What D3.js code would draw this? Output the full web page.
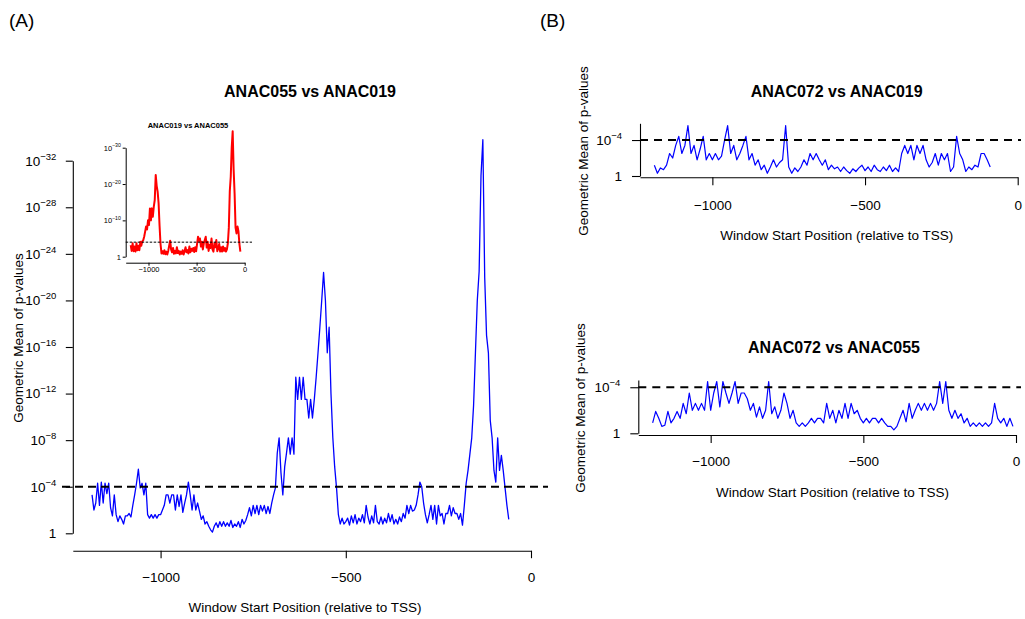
<!DOCTYPE html>
<html>
<head>
<meta charset="utf-8">
<script src="https://cdn.jsdelivr.net/npm/d3@7"></script>
<style>
  body { margin: 0; background: #fff; }
  svg text { font-family: "Liberation Sans", Arial, Helvetica, sans-serif; fill: #000; }
</style>
</head>
<body>
<svg id="fig" width="1025" height="619"></svg>
<script>
// ---- data: -log10 of the geometric mean of p-values per sliding window ----
const xTicks = [-1000, -500, 0];
const xAxisStart = -1237;
const threshold = 4;               // p = 1e-4

// ANAC055 vs ANAC019 (windows every 5 bp from -1185)
const mainStart = -1185, mainStep = 5;
const mainValues = [
  3.3, 2.0, 2.6, 4.3, 2.4, 4.4, 2.6, 4.3, 3.4, 4.3,
  2.2, 1.5, 3.3, 1.6, 1.0, 1.5, 1.2, 0.8, 1.5, 1.5,
  1.7, 1.4, 2.4, 3.3, 4.3, 5.5, 3.9, 4.3, 3.3, 4.3,
  1.6, 1.3, 1.6, 1.3, 1.6, 1.3, 1.6, 1.6, 2.0, 2.4,
  3.3, 3.3, 2.6, 3.3, 3.3, 2.0, 3.3, 2.3, 3.3, 1.8,
  2.6, 3.3, 4.4, 3.3, 2.0, 3.3, 2.0, 2.6, 1.9, 1.2,
  1.5, 0.8, 1.0, 0.6, 0.3, 0.1, 0.6, 0.9, 0.5, 1.0,
  0.6, 1.0, 0.6, 0.9, 0.6, 1.1, 0.5, 0.8, 0.6, 1.0,
  0.5, 1.2, 0.8, 1.1, 1.6, 2.2, 1.5, 2.4, 1.7, 2.4,
  1.6, 2.4, 1.9, 2.4, 1.7, 2.3, 1.7, 2.6, 3.3, 3.9,
  6.9, 8.2, 5.2, 3.3, 5.7, 6.9, 8.2, 6.8, 8.2, 6.8,
  13.4, 11.5, 13.4, 11.5, 13.4, 11.5, 11.5, 9.9, 11.5, 9.9,
  11.5, 13.4, 15.5, 17.7, 20.0, 22.4, 20.0, 15.5, 17.7, 12.0,
  8.2, 5.7, 3.9, 1.6, 0.8, 1.3, 0.8, 1.0, 1.3, 0.7,
  1.5, 0.9, 1.6, 0.8, 1.3, 1.0, 1.6, 0.9, 2.4, 1.4,
  0.8, 1.5, 0.9, 2.4, 1.0, 0.8, 1.4, 0.8, 1.3, 0.9,
  1.7, 1.0, 1.6, 0.8, 1.2, 0.8, 1.4, 1.0, 1.7, 1.3,
  2.4, 1.7, 2.4, 1.9, 2.0, 2.4, 3.3, 4.4, 4.0, 2.6,
  1.6, 0.9, 1.6, 2.4, 1.2, 2.4, 0.8, 2.4, 1.5, 1.7,
  0.8, 1.7, 1.7, 2.4, 1.5, 2.2, 1.7, 1.7, 1.2, 1.7,
  0.7, 2.4, 4.3, 5.4, 6.8, 8.2, 11.0, 15.5, 20.0, 22.5,
  30.7, 33.8, 22.0, 17.0, 15.5, 9.7, 8.2, 5.4, 4.4, 8.2,
  5.4, 6.7, 5.4, 3.9, 2.4, 1.2
];

// ANAC019 vs ANAC055 (inset, windows every 10 bp from -1185)
const insetStart = -1185, insetStep = 10;
const insetValues = [
  3.2, 1.6, 3.7, 1.5, 2.8, 1.4, 3.7, 1.8, 3.0, 1.8,
  4.1, 3.0, 4.2, 4.5, 5.5, 6.9, 8.3, 7.5, 10.0, 8.7,
  13.3, 10.0, 13.3, 11.0, 13.8, 15.6, 22.5, 19.5, 17.9, 14.7,
  8.5, 3.5, 0.9, 1.5, 0.8, 1.8, 0.7, 1.4, 0.6, 1.6,
  3.0, 4.4, 2.0, 1.2, 2.4, 0.8, 1.6, 0.9, 2.6, 1.0,
  1.6, 0.6, 1.4, 0.8, 1.8, 0.6, 1.5, 2.6, 1.2, 1.8,
  0.9, 2.8, 1.2, 2.2, 1.6, 2.4, 1.3, 2.6, 1.5, 3.5,
  5.5, 4.4, 5.0, 2.8, 4.1, 2.0, 3.7, 4.6, 5.5, 2.5,
  4.1, 1.6, 3.3, 2.4, 5.0, 2.0, 1.4, 3.7, 2.6, 4.6,
  1.5, 2.2, 3.5, 1.4, 2.6, 1.4, 2.8, 1.6, 2.4, 1.4,
  2.0, 3.7, 8.0, 18.0, 22.0, 30.0, 34.5, 24.0, 17.4, 8.0,
  6.4, 8.3, 7.0, 3.5, 1.4
];

// ANAC072 vs ANAC019 (windows every 10 bp from -1190)
const b1Start = -1190, b1Step = 10;
const b1Values = [
  1.2, 0.3, 0.9, 0.7, 1.2, 2.5, 2.0, 3.4, 4.4, 2.5,
  3.4, 5.6, 2.5, 3.4, 1.8, 3.0, 4.4, 1.8, 2.5, 1.8,
  2.5, 1.8, 2.2, 4.0, 5.6, 2.5, 3.4, 1.8, 2.5, 3.4,
  4.4, 1.8, 2.5, 1.2, 1.8, 0.7, 1.2, 0.3, 1.0, 1.8,
  1.0, 1.5, 1.8, 5.6, 1.0, 0.3, 0.9, 0.5, 1.0, 1.8,
  1.2, 2.5, 1.8, 2.5, 1.8, 1.2, 1.8, 0.7, 1.2, 0.8,
  1.0, 0.5, 1.0, 0.6, 0.3, 0.8, 0.5, 0.9, 1.2, 0.6,
  1.0, 0.5, 1.2, 0.7, 0.5, 1.0, 0.6, 1.2, 0.5, 0.9,
  0.5, 2.5, 3.4, 2.5, 3.4, 1.8, 3.4, 2.5, 3.4, 1.8,
  1.0, 1.5, 2.5, 1.2, 2.5, 1.8, 2.5, 0.5, 1.0, 4.4,
  2.5, 1.8, 0.5, 1.0, 0.7, 1.2, 1.0, 2.5, 2.5, 1.8, 1.0
];

// ANAC072 vs ANAC055 (windows every 10 bp from -1190)
const b2Start = -1190, b2Step = 10;
const b2Values = [
  0.9, 1.9, 1.3, 0.6, 0.7, 1.9, 0.9, 1.3, 1.9, 1.3,
  2.6, 1.7, 3.5, 2.0, 2.6, 2.0, 2.6, 2.0, 4.5, 2.0,
  3.5, 4.5, 2.3, 4.5, 3.5, 2.6, 3.5, 4.5, 2.6, 3.5,
  3.5, 3.0, 2.0, 2.6, 1.4, 2.3, 1.3, 2.0, 4.5, 1.7,
  2.3, 1.3, 2.0, 3.5, 2.6, 1.3, 2.0, 0.9, 0.6, 0.9,
  0.6, 0.9, 1.3, 0.9, 1.3, 1.3, 0.9, 2.6, 1.3, 2.0,
  0.9, 2.0, 1.3, 2.6, 1.3, 2.6, 1.7, 2.0, 1.3, 0.9,
  1.3, 0.9, 1.3, 1.3, 0.9, 1.3, 0.9, 0.6, 0.6, 0.3,
  0.6, 1.3, 2.0, 1.0, 2.6, 1.3, 2.0, 2.6, 2.0, 2.6,
  2.0, 2.6, 2.0, 2.6, 4.5, 2.6, 4.5, 2.0, 1.3, 2.0,
  1.3, 1.7, 0.9, 1.3, 0.6, 0.9, 0.6, 0.9, 0.6, 0.9,
  0.6, 0.9, 2.6, 1.3, 0.9, 1.3, 0.6, 1.3, 0.6
];

const mainYTicks = [0, 4, 8, 12, 16, 20, 24, 28, 32];
const insetYTicks = [0, 10, 20, 30];
const bYTicks = [0, 4];

const titles = {
  main: "ANAC055 vs ANAC019",
  inset: "ANAC019 vs ANAC055",
  b1: "ANAC072 vs ANAC019",
  b2: "ANAC072 vs ANAC055"
};
const xLabel = "Window Start Position (relative to TSS)";
const yLabel = "Geometric Mean of p-values";

// ---- helpers ----
function series(start, step, vals) {
  return vals.map((v, i) => ({ pos: start + i * step, v }));
}
const minusFmt = d => (d < 0 ? "\u2212" + Math.abs(d) : String(d));

const svg = d3.select("#fig");

function panel(c) {
  const g = svg.append("g");
  const x = d3.scaleLinear().domain([xAxisStart, 0]).range([c.x0, c.x1]);
  const y = d3.scaleLinear().domain([0, c.yTop]).range([c.y0, c.y1]);

  // profile line
  g.append("path")
    .datum(c.data)
    .attr("d", d3.line().x(d => x(d.pos)).y(d => y(d.v)))
    .attr("fill", "none")
    .attr("stroke", c.color)
    .attr("stroke-width", c.lw)
    .attr("stroke-linejoin", "round");

  // significance threshold
  g.append("line")
    .attr("x1", c.dashX0).attr("x2", c.dashX1)
    .attr("y1", y(threshold)).attr("y2", y(threshold))
    .attr("stroke", "#000")
    .attr("stroke-width", c.dashW)
    .attr("stroke-dasharray", c.dash);

  // y axis with 10^-k labels
  const ya = g.append("g")
    .attr("transform", `translate(${c.yAxisX},0)`)
    .call(d3.axisLeft(y).tickValues(c.yTicks).tickSize(c.yTick)
      .tickSizeOuter(0).tickPadding(c.yPad).tickFormat(() => ""));
  ya.attr("font-size", null).attr("font-family", null);
  ya.selectAll("path, line").attr("stroke-width", c.axisW);
  ya.selectAll(".tick text").each(function (d) {
    const t = d3.select(this).style("font-size", c.fs + "px");
    if (d === 0) {
      t.text("1");
    } else {
      t.text("10");
      t.append("tspan")
        .style("font-size", c.fsSup + "px")
        .attr("dy", -c.supRaise)
        .text("\u2212" + d);
    }
  });

  // x axis
  const xa = g.append("g")
    .attr("transform", `translate(0,${c.xAxisY})`)
    .call(d3.axisBottom(x).tickValues(xTicks).tickSize(c.xTick)
      .tickSizeOuter(0).tickPadding(c.xPad).tickFormat(minusFmt));
  xa.attr("font-size", null).attr("font-family", null);
  xa.selectAll("path, line").attr("stroke-width", c.axisW);
  xa.selectAll(".tick text").style("font-size", c.fs + "px");

  // title
  g.append("text")
    .attr("x", c.titleX).attr("y", c.titleY)
    .attr("text-anchor", "middle")
    .style("font-weight", "bold")
    .style("font-size", c.titleFs + "px")
    .text(c.title);

  if (c.xLabelY) {
    g.append("text")
      .attr("x", c.xLabelX).attr("y", c.xLabelY)
      .attr("text-anchor", "middle")
      .style("font-size", c.fs + "px")
      .text(xLabel);
  }
  if (c.yLabelX) {
    g.append("text")
      .attr("transform", `translate(${c.yLabelX},${c.yLabelY}) rotate(-90)`)
      .attr("text-anchor", "middle")
      .attr("dy", "0.35em")
      .style("font-size", c.fs + "px")
      .text(yLabel);
  }
}

// (A) main panel
panel({
  data: series(mainStart, mainStep, mainValues),
  color: "#0000ff", lw: 1.3,
  x0: 72.8, x1: 531, y0: 533.3, y1: 160.7, yTop: 32,
  yAxisX: 72.8, xAxisY: 550.7,
  yTicks: mainYTicks, yTick: 7, yPad: 9.5, xTick: 7.5, xPad: 13.8,
  fs: 13.5, fsSup: 9.5, supRaise: 6, axisW: 1.1,
  dashX0: 62, dashX1: 548, dashW: 2, dash: "8,5",
  title: titles.main, titleX: 310, titleY: 97, titleFs: 16,
  xLabelX: 305, xLabelY: 612, yLabelX: 18, yLabelY: 338
});

// (A) inset
panel({
  data: series(insetStart, insetStep, insetValues),
  color: "#ff0000", lw: 2,
  x0: 125.7, x1: 244.7, y0: 256.7, y1: 147.7, yTop: 30,
  yAxisX: 125.7, xAxisY: 262.7,
  yTicks: insetYTicks, yTick: 3, yPad: 1.8, xTick: 3, xPad: 0.5,
  fs: 7.5, fsSup: 5.2, supRaise: 3.2, axisW: 1,
  dashX0: 125.7, dashX1: 252, dashW: 1, dash: "2.5,1.5",
  title: titles.inset, titleX: 188, titleY: 128, titleFs: 7.5
});

// (B) top
panel({
  data: series(b1Start, b1Step, b1Values),
  color: "#0000ff", lw: 1.2,
  x0: 640, x1: 1017.7, y0: 176, y1: 123.3, yTop: 5.86,
  yAxisX: 640, xAxisY: 177.3,
  yTicks: bYTicks, yTick: 8, yPad: 10, xTick: 8, xPad: 14.9,
  fs: 13.5, fsSup: 9.5, supRaise: 6, axisW: 1.1,
  dashX0: 640, dashX1: 1021, dashW: 2, dash: "8,6",
  title: titles.b1, titleX: 836.7, titleY: 97, titleFs: 16,
  xLabelX: 836.7, xLabelY: 240, yLabelX: 583, yLabelY: 151
});

// (B) bottom
panel({
  data: series(b2Start, b2Step, b2Values),
  color: "#0000ff", lw: 1.2,
  x0: 638.3, x1: 1016, y0: 433.3, y1: 380, yTop: 4.63,
  yAxisX: 638.3, xAxisY: 435,
  yTicks: bYTicks, yTick: 8, yPad: 10, xTick: 8, xPad: 13.9,
  fs: 13.5, fsSup: 9.5, supRaise: 6, axisW: 1.1,
  dashX0: 638.3, dashX1: 1021, dashW: 2, dash: "8,6",
  title: titles.b2, titleX: 834, titleY: 353, titleFs: 16,
  xLabelX: 832.5, xLabelY: 497, yLabelX: 580, yLabelY: 408
});

// panel letters
svg.append("text").attr("x", 9).attr("y", 27).style("font-size", "19px").text("(A)");
svg.append("text").attr("x", 540).attr("y", 27).style("font-size", "19px").text("(B)");
</script>
</body>
</html>
